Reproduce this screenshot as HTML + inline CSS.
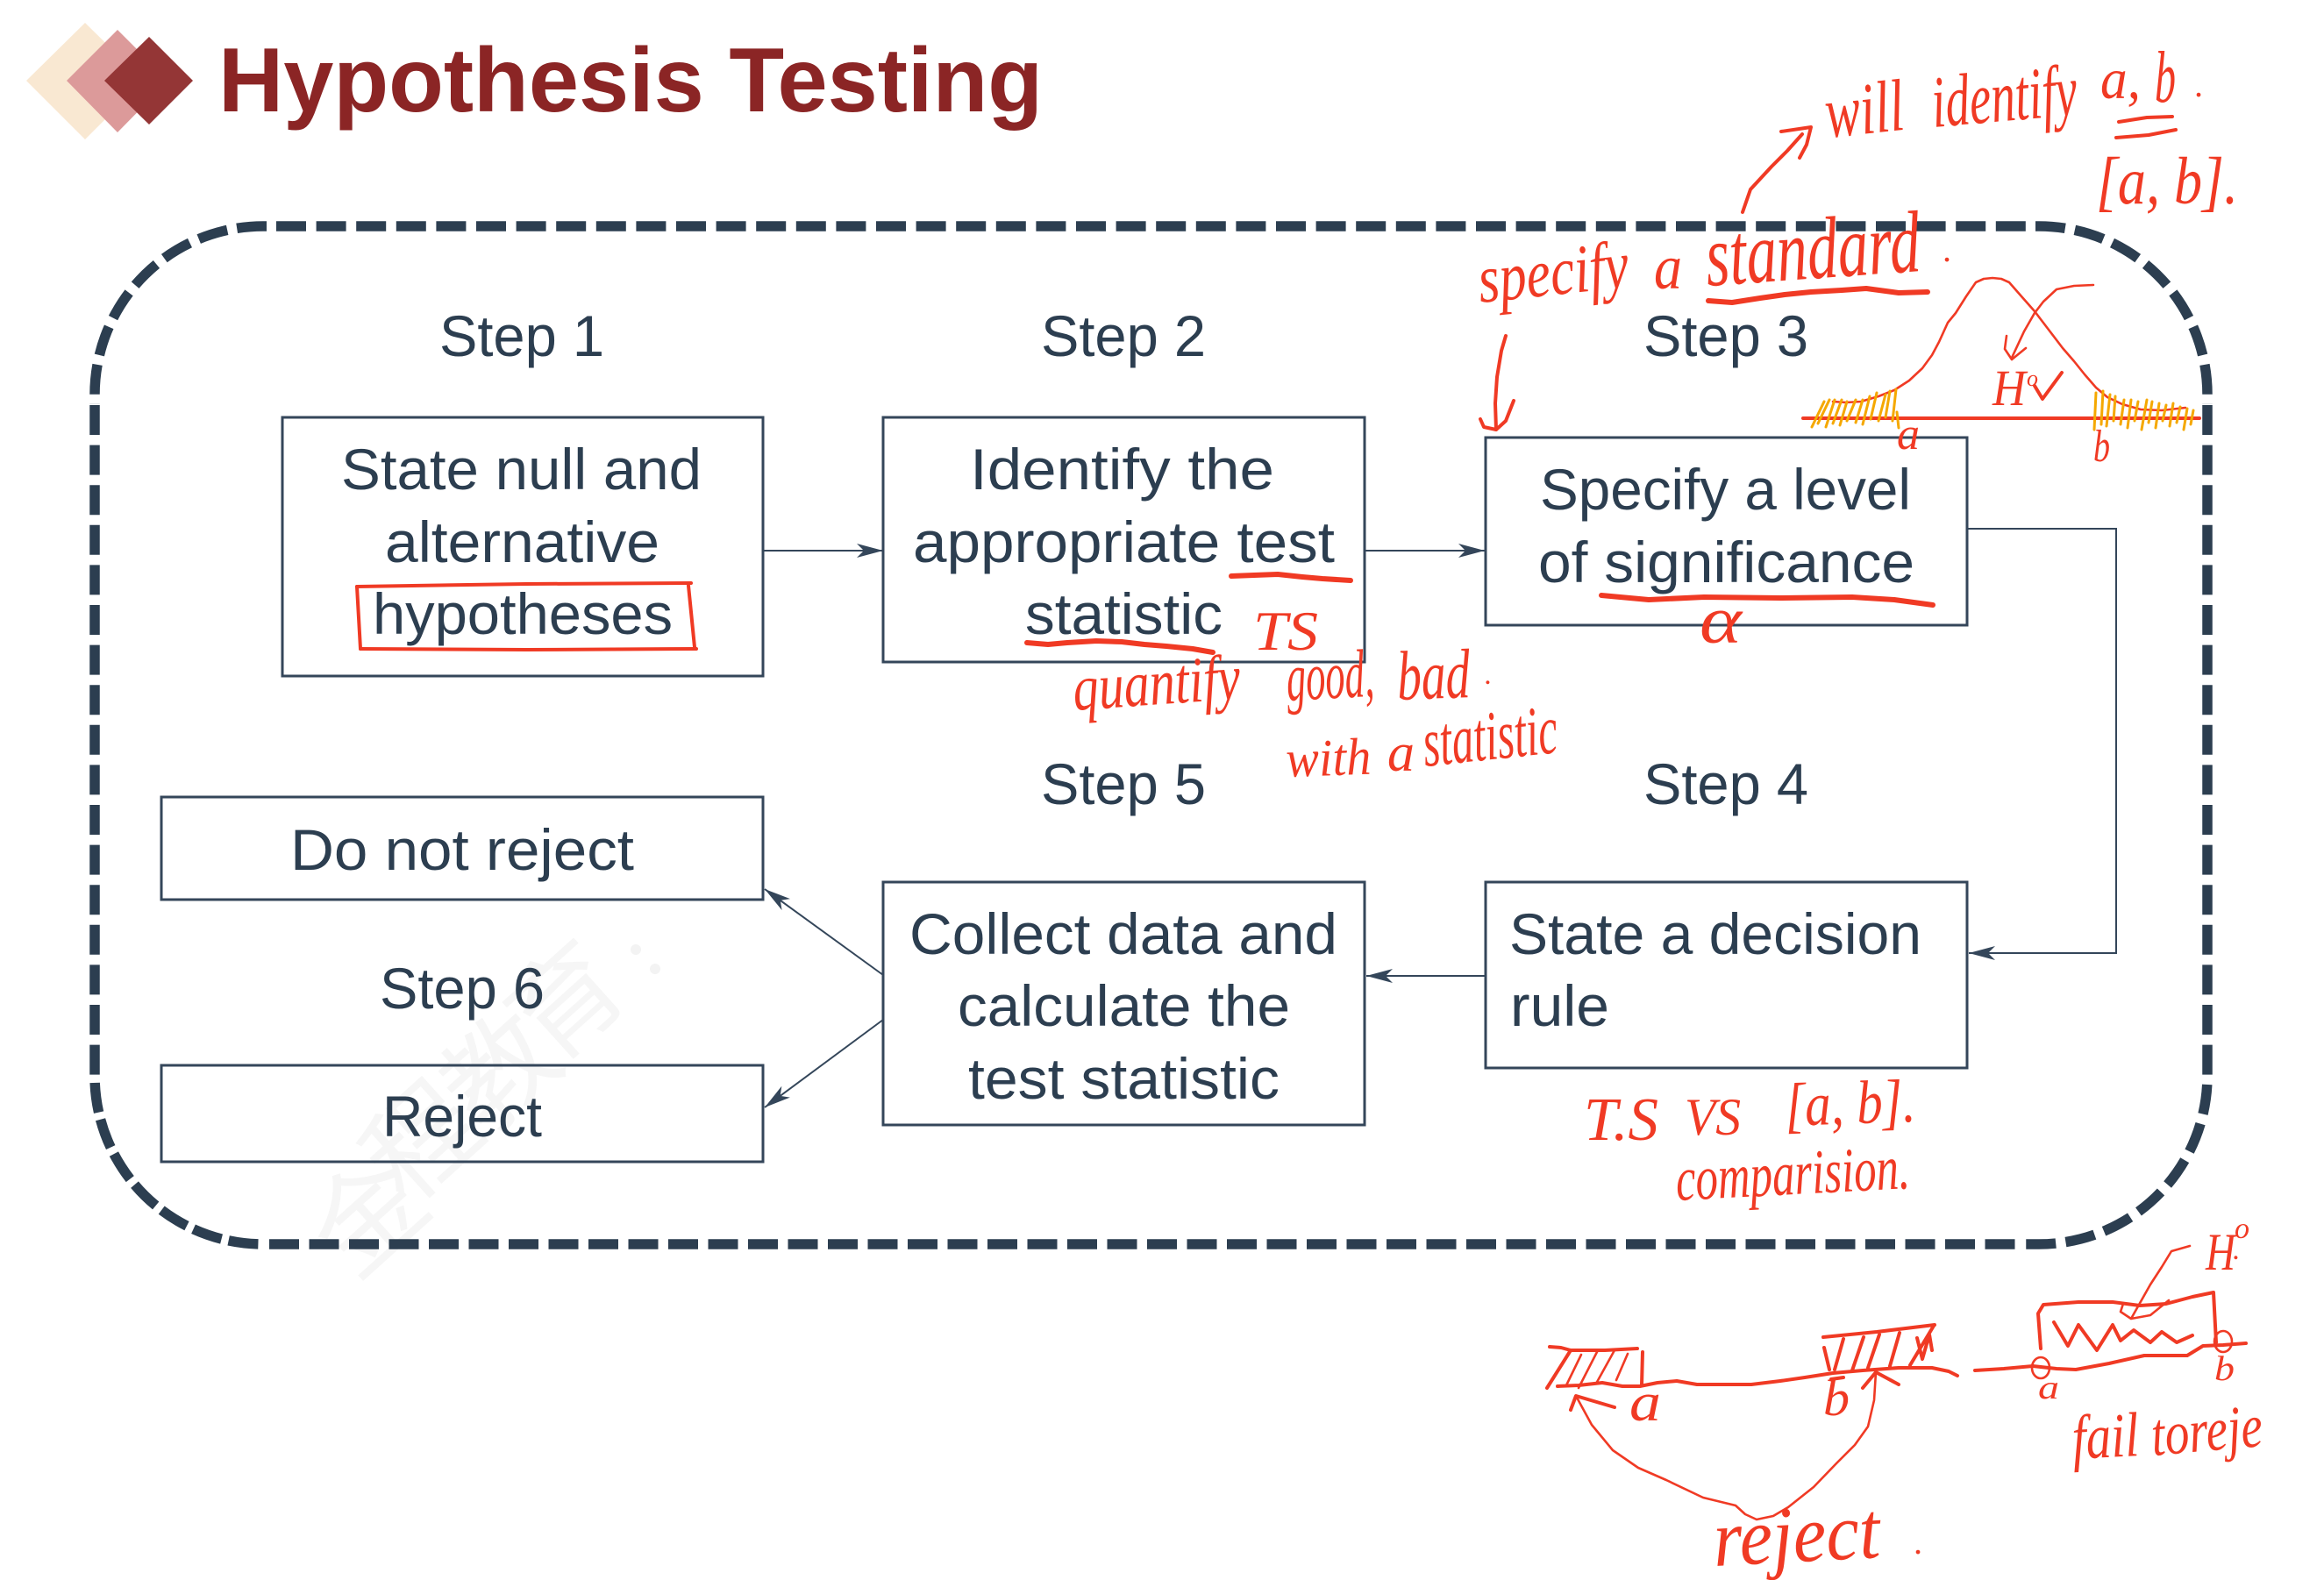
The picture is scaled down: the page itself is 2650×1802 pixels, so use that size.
<!DOCTYPE html>
<html>
<head>
<meta charset="utf-8">
<title>Hypothesis Testing</title>
<style>
html,body{margin:0;padding:0;background:#fff}
svg{display:block}
.t{font-family:"Liberation Sans",sans-serif;font-size:66px;fill:#2C3E50}
.h{font-family:"Liberation Serif",serif;font-style:italic;fill:#F03A24}
.b{fill:none;stroke:#34465A;stroke-width:3}
.c{fill:none;stroke:#34465A;stroke-width:2}
.d{fill:none;stroke:#2C3E50;stroke-width:11.5}
.r{fill:none;stroke:#F03A24;stroke-width:2.6;stroke-linecap:round;stroke-linejoin:round}
.m{fill:none;stroke:#F03A24;stroke-width:4;stroke-linecap:round;stroke-linejoin:round}
.k{fill:none;stroke:#F03A24;stroke-width:6;stroke-linecap:round;stroke-linejoin:round}
.o{fill:none;stroke:#F5A800;stroke-width:3;stroke-linecap:round}
.w{font-family:"Noto Sans CJK SC",sans-serif;font-size:125px;fill:#F6F6F6}
</style>
</head>
<body>
<svg xmlns="http://www.w3.org/2000/svg" width="2650" height="1802" viewBox="0 0 2650 1802">
<defs>
<marker id="a" markerUnits="userSpaceOnUse" markerWidth="34" markerHeight="20" refX="32" refY="10" orient="auto">
<path d="M2 2 L32 10 L2 18 L10 10 Z" fill="#34465A"/>
</marker>
</defs>
<rect width="2650" height="1802" fill="#fff"/>

<!-- watermark -->
<text class="w" text-anchor="middle" transform="translate(450 1420) rotate(-42)">金</text>
<text class="w" text-anchor="middle" transform="translate(510 1335) rotate(-42)">程</text>
<text class="w" text-anchor="middle" transform="translate(600 1255) rotate(-42)">教</text>
<text class="w" text-anchor="middle" transform="translate(675 1175) rotate(-42)">育</text>
<circle cx="725" cy="1083" r="6" fill="#F3F3F3"/>
<circle cx="747" cy="1105" r="6" fill="#F3F3F3"/>

<!-- title -->
<polygon points="30,92 97,26 164,92 97,159" fill="#F9E8D2"/>
<polygon points="76,92 134,34 192,92 134,151" fill="#DC9A9A"/>
<polygon points="119,92 170,42 220,92 170,142" fill="#943636"/>
<text x="249" y="127" textLength="940" lengthAdjust="spacingAndGlyphs" style="font-family:'Liberation Sans',sans-serif;font-weight:bold;font-size:104px;fill:#8B2525">Hypothesis Testing</text>

<!-- dashed border -->
<path class="d" stroke-dasharray="34 11.6" d="M315 258 H2321"/>
<path class="d" stroke-dasharray="34 11.2" d="M2321 258 H2325 A192 192 0 0 1 2517 450 V461"/>
<path class="d" stroke-dasharray="34 11.6" d="M2517 462 V1227"/>
<path class="d" stroke-dasharray="34 11.37" stroke-dashoffset="35.37" d="M2517 1227 A192 192 0 0 1 2325 1419 H2309"/>
<path class="d" stroke-dasharray="34 11.5" d="M307 1419 H2300"/>
<path class="d" stroke-dasharray="34 8.3" stroke-dashoffset="34.3" d="M108 1227 A192 192 0 0 0 300 1419"/>
<path class="d" stroke-dasharray="34 11.6" d="M108 462 V1227"/>
<path class="d" stroke-dasharray="34 11.2" d="M304 258 H300 A192 192 0 0 0 108 450 V461"/>

<!-- boxes -->
<rect class="b" x="322" y="476" width="548" height="295"/>
<rect class="b" x="1007" y="476" width="549" height="279"/>
<rect class="b" x="1694" y="499" width="549" height="214"/>
<rect class="b" x="184" y="909" width="686" height="117"/>
<rect class="b" x="184" y="1215" width="686" height="110"/>
<rect class="b" x="1007" y="1006" width="549" height="277"/>
<rect class="b" x="1694" y="1006" width="549" height="212"/>

<!-- connectors -->
<path class="c" marker-end="url(#a)" d="M871 628 H1007"/>
<path class="c" marker-end="url(#a)" d="M1557 628 H1693"/>
<path class="c" marker-end="url(#a)" d="M2243 603 H2413 V1087 H2245"/>
<path class="c" marker-end="url(#a)" d="M1693 1113 H1558"/>
<path class="c" marker-end="url(#a)" d="M1007 1112 L872 1014"/>
<path class="c" marker-end="url(#a)" d="M1007 1163 L872 1263"/>

<!-- labels -->
<text class="t" x="501" y="406" textLength="188" lengthAdjust="spacingAndGlyphs">Step 1</text>
<text class="t" x="1187" y="406" textLength="188" lengthAdjust="spacingAndGlyphs">Step 2</text>
<text class="t" x="1874" y="406" textLength="188" lengthAdjust="spacingAndGlyphs">Step 3</text>
<text class="t" x="1874" y="917" textLength="188" lengthAdjust="spacingAndGlyphs">Step 4</text>
<text class="t" x="1187" y="917" textLength="188" lengthAdjust="spacingAndGlyphs">Step 5</text>
<text class="t" x="433" y="1150" textLength="188" lengthAdjust="spacingAndGlyphs">Step 6</text>

<text class="t" x="389" y="558" textLength="411" lengthAdjust="spacingAndGlyphs">State null and</text>
<text class="t" x="439" y="641" textLength="313" lengthAdjust="spacingAndGlyphs">alternative</text>
<text class="t" x="425" y="723" textLength="342" lengthAdjust="spacingAndGlyphs">hypotheses</text>

<text class="t" x="1106" y="558" textLength="347" lengthAdjust="spacingAndGlyphs">Identify the</text>
<text class="t" x="1041" y="641" textLength="481" lengthAdjust="spacingAndGlyphs">appropriate test</text>
<text class="t" x="1169" y="723" textLength="225" lengthAdjust="spacingAndGlyphs">statistic</text>

<text class="t" x="1756" y="581" textLength="423" lengthAdjust="spacingAndGlyphs">Specify a level</text>
<text class="t" x="1754" y="664" textLength="429" lengthAdjust="spacingAndGlyphs">of significance</text>

<text class="t" x="331" y="992" textLength="392" lengthAdjust="spacingAndGlyphs">Do not reject</text>
<text class="t" x="436" y="1296" textLength="182" lengthAdjust="spacingAndGlyphs">Reject</text>

<text class="t" x="1037" y="1088" textLength="488" lengthAdjust="spacingAndGlyphs">Collect data and</text>
<text class="t" x="1092" y="1170" textLength="379" lengthAdjust="spacingAndGlyphs">calculate the</text>
<text class="t" x="1104" y="1253" textLength="355" lengthAdjust="spacingAndGlyphs">test statistic</text>

<text class="t" x="1721" y="1088" textLength="470" lengthAdjust="spacingAndGlyphs">State a decision</text>
<text class="t" x="1722" y="1170" textLength="113" lengthAdjust="spacingAndGlyphs">rule</text>

<!-- handwriting text -->
<text class="h" font-size="84" x="2084" y="157" textLength="90" lengthAdjust="spacingAndGlyphs" transform="rotate(-6 2084 157)">will</text>
<text class="h" font-size="84" x="2205" y="145" textLength="166" lengthAdjust="spacingAndGlyphs" transform="rotate(-5 2205 145)">identify</text>
<text class="h" font-size="66" x="2395" y="112" textLength="46" lengthAdjust="spacingAndGlyphs">a,</text>
<text class="h" font-size="84" x="2457" y="116" textLength="24" lengthAdjust="spacingAndGlyphs">b</text>
<text class="h" font-size="40" x="2503" y="110">.</text>
<text class="h" font-size="76" x="2390" y="232" textLength="162" lengthAdjust="spacingAndGlyphs">[a, b].</text>
<text class="h" font-size="78" x="1688" y="345" textLength="172" lengthAdjust="spacingAndGlyphs" transform="rotate(-6 1688 345)">specify</text>
<text class="h" font-size="72" x="1886" y="329" textLength="32" lengthAdjust="spacingAndGlyphs">a</text>
<text class="h" font-size="100" x="1947" y="326" textLength="245" lengthAdjust="spacingAndGlyphs" transform="rotate(-4 1947 326)">standard</text>
<text class="h" font-size="40" x="2216" y="298">.</text>
<text class="h" font-size="58" x="2272" y="462" textLength="38" lengthAdjust="spacingAndGlyphs">H</text>
<text class="h" font-size="26" x="2311" y="440">o</text>
<text class="h" font-size="52" x="2163" y="512" textLength="26" lengthAdjust="spacingAndGlyphs">a</text>
<text class="h" font-size="52" x="2387" y="526" textLength="19" lengthAdjust="spacingAndGlyphs">b</text>
<text class="h" font-size="64" x="1429" y="741" textLength="74" lengthAdjust="spacingAndGlyphs">TS</text>
<text class="h" font-size="76" x="1938" y="733" textLength="48" lengthAdjust="spacingAndGlyphs">α</text>
<text class="h" font-size="74" x="1225" y="810" textLength="191" lengthAdjust="spacingAndGlyphs" transform="rotate(-4 1225 810)">quantify</text>
<text class="h" font-size="78" x="1468" y="799" textLength="100" lengthAdjust="spacingAndGlyphs" transform="rotate(-3 1468 799)">good,</text>
<text class="h" font-size="80" x="1594" y="798" textLength="83" lengthAdjust="spacingAndGlyphs" transform="rotate(-2 1594 798)">bad</text>
<text class="h" font-size="34" x="1693" y="780">.</text>
<text class="h" font-size="60" x="1467" y="886" textLength="97" lengthAdjust="spacingAndGlyphs" transform="rotate(-2 1467 886)">with</text>
<text class="h" font-size="62" x="1582" y="879" textLength="31" lengthAdjust="spacingAndGlyphs">a</text>
<text class="h" font-size="80" x="1625" y="874" textLength="154" lengthAdjust="spacingAndGlyphs" transform="rotate(-6 1625 874)">statistic</text>
<text class="h" font-size="70" x="1806" y="1300" textLength="85" lengthAdjust="spacingAndGlyphs">T.S</text>
<text class="h" font-size="60" x="1921" y="1294" textLength="64" lengthAdjust="spacingAndGlyphs">VS</text>
<text class="h" font-size="70" x="2036" y="1284" textLength="149" lengthAdjust="spacingAndGlyphs" transform="rotate(-2 2036 1284)">[a, b].</text>
<text class="h" font-size="72" x="1912" y="1369" textLength="267" lengthAdjust="spacingAndGlyphs" transform="rotate(-3 1912 1369)">comparision.</text>
<text class="h" font-size="62" x="1858" y="1620" textLength="36" lengthAdjust="spacingAndGlyphs">a</text>
<text class="h" font-size="58" x="2079" y="1614" textLength="30" lengthAdjust="spacingAndGlyphs">b</text>
<text class="h" font-size="60" x="2515" y="1448" textLength="34" lengthAdjust="spacingAndGlyphs">H</text>
<text class="h" font-size="34" x="2548" y="1412">o</text>
<text class="h" font-size="34" x="2546" y="1436">.</text>
<text class="h" font-size="38" x="2324" y="1595" textLength="24" lengthAdjust="spacingAndGlyphs">a</text>
<text class="h" font-size="40" x="2525" y="1574" textLength="23" lengthAdjust="spacingAndGlyphs">b</text>
<text class="h" font-size="72" x="2364" y="1664" textLength="76" lengthAdjust="spacingAndGlyphs" transform="rotate(-3 2364 1664)">fail</text>
<text class="h" font-size="70" x="2455" y="1660" textLength="127" lengthAdjust="spacingAndGlyphs" transform="rotate(-5 2455 1660)">toreje</text>
<text class="h" font-size="92" x="1955" y="1786" textLength="190" lengthAdjust="spacingAndGlyphs" transform="rotate(-3 1955 1786)">reject</text>
<text class="h" font-size="40" x="2183" y="1772">.</text>

<!-- ink: arrows, underlines -->
<path class="m" d="M1987 242 L1996 216 L2020 190 L2038 172 L2055 153"/>
<path class="m" d="M2031 150 L2065 145 L2060 165 L2052 180"/>
<path class="m" d="M2416 139 L2448 134 L2477 133"/>
<path class="m" d="M2413 157 L2450 154 L2481 148"/>
<path class="k" d="M1948 343 L1975 345 L2007 340 L2035 336 L2065 333 L2100 331 L2128 329 L2165 334 L2198 333"/>
<path class="m" d="M1717 383 L1712 400 L1707 430 L1705 460 L1706 490"/>
<path class="m" d="M1688 478 L1692 487 L1706 490 L1717 480 L1726 457"/>
<path class="r" d="M2090 458 L2105 459 L2122 458 L2142 452 L2160 445 L2177 434 L2192 420 L2203 405 L2211 390 L2221 368 L2230 357 L2242 338 L2253 322 L2262 318 L2272 317 L2282 318 L2291 322 L2305 338 L2320 355 L2336 376 L2352 397 L2365 412 L2377 427 L2390 442 L2403 453 L2420 461 L2441 467 L2465 468 L2492 465"/>
<path class="m" d="M2056 477 H2508"/>
<path class="r" d="M2387 325 L2365 326 L2345 330 L2330 344 L2320 357 L2308 378 L2294 408"/>
<path class="r" d="M2288 383 L2286 398 L2294 410 L2310 397"/>
<path class="m" d="M2320 440 L2329 455 L2351 425"/>
<path class="o" d="M2066 487L2080 458 M2073 483L2086 456 M2082 487L2092 456 M2090 483L2100 456 M2098 485L2106 458 M2106 480L2116 456 M2116 482L2124 456 M2124 484L2132 452 M2133 478L2140 448 M2142 480L2150 450 M2150 476L2155 446 M2158 480L2162 444 M2165 488L2163 470"/>
<path class="o" d="M2388 490L2390 448 M2396 484L2398 446 M2402 486L2406 450 M2410 480L2412 452 M2418 484L2422 456 M2426 488L2430 456 M2434 480L2438 458 M2442 490L2448 456 M2450 482L2454 458 M2458 488L2462 460 M2466 480L2470 462 M2474 486L2478 460 M2482 482L2486 464 M2490 490L2494 466 M2498 484L2501 468"/>
<path class="k" d="M1404 657 L1430 656 L1457 655 L1485 658 L1508 660 L1540 662"/>
<path class="k" d="M1171 733 L1195 735 L1217 733 L1250 731 L1279 732 L1305 735 L1330 737 L1360 740 L1383 744"/>
<path class="k" d="M1826 679 L1880 684 L1943 681 L2030 682 L2112 681 L2160 684 L2204 690"/>
<path class="m" d="M407 669 L600 666 L788 665"/>
<path class="m" d="M407 669 L411 740"/>
<path class="m" d="M785 668 L792 738"/>
<path class="m" d="M411 740 L600 741 L794 740"/>

<!-- bottom sketches -->
<path class="m" d="M1767 1536 L1780 1537 L1791 1540 L1830 1540 L1867 1538"/>
<path class="m" d="M1764 1583 L1791 1540"/>
<path class="r" d="M1786 1580 L1803 1545 M1800 1583 L1822 1540 M1820 1578 L1841 1540 M1843 1574 L1856 1544"/>
<path class="m" d="M1873 1542 L1872 1580"/>
<path class="m" d="M1776 1581 L1800 1580 L1827 1577 L1850 1581 L1870 1581 L1890 1577 L1912 1575 L1935 1579 L1955 1579 L1997 1579 L2030 1575 L2058 1571 L2090 1566 L2124 1563 L2165 1560 L2203 1560 L2222 1564 L2232 1569"/>
<path class="m" d="M2079 1525 L2140 1519 L2206 1511"/>
<path class="m" d="M2080 1537 L2086 1562 M2092 1562 L2102 1527 M2112 1563 L2125 1525 M2130 1560 L2143 1522 M2155 1558 L2166 1520 M2178 1557 L2205 1512 M2186 1526 L2192 1550 L2200 1522 L2203 1540"/>
<path class="m" d="M2088 1573 L2102 1571"/>
<path class="r" d="M1797 1592 L1815 1625 L1839 1654 L1868 1674 L1900 1688 L1942 1708 L1979 1717 L1990 1727 L2003 1733 L2022 1729 L2039 1719 L2068 1696 L2094 1669 L2115 1648 L2130 1627 L2137 1597 L2139 1565"/>
<path class="m" d="M1791 1608 L1797 1592 L1841 1605"/>
<path class="m" d="M2124 1583 L2139 1565 L2165 1579"/>
<path class="m" d="M2252 1563 L2285 1561 L2318 1558 L2345 1561 L2367 1562 L2405 1555 L2445 1546 L2470 1546 L2494 1546 L2512 1535 L2535 1534 L2561 1532"/>
<ellipse class="r" cx="2327" cy="1560" rx="10" ry="12"/>
<ellipse class="r" cx="2535" cy="1530" rx="10" ry="12"/>
<path class="m" d="M2327 1538 L2324 1498 L2330 1488 L2370 1485 L2409 1485 L2440 1489 L2470 1487 L2500 1479 L2524 1474 L2527 1531"/>
<path class="m" d="M2342 1508 L2358 1535 L2370 1511 L2391 1540 L2409 1511 L2418 1529 L2433 1517 L2452 1531 L2465 1519 L2482 1531 L2500 1523"/>
<path class="r" d="M2497 1421 L2476 1427 L2465 1445 L2452 1465 L2430 1504 L2418 1496 L2421 1487 M2430 1504 L2452 1500 L2473 1483"/>
</svg>
</body>
</html>
